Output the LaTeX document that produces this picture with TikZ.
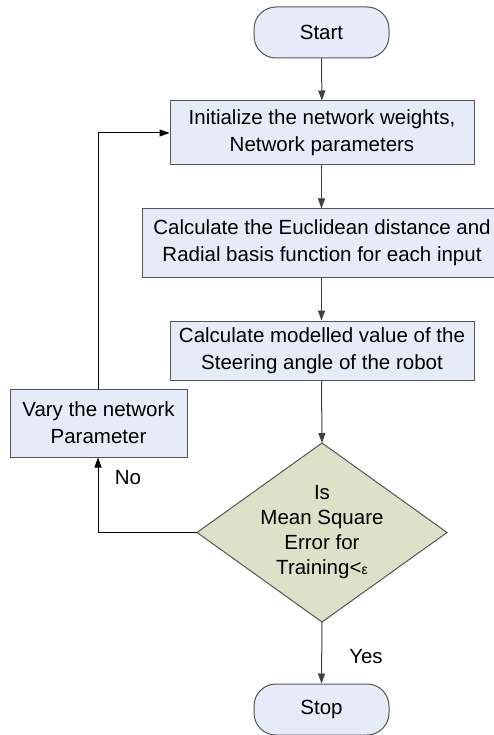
\documentclass[tikz,border=0pt]{standalone}
\usepackage{fontspec}
\setmainfont{Liberation Sans}
\usetikzlibrary{shapes.geometric,arrows.meta}
\definecolor{boxfill}{HTML}{E6ECF7}
\definecolor{diafill}{HTML}{DDE1C8}
\definecolor{edge}{HTML}{555555}
\definecolor{lineclr}{HTML}{404040}
\begin{document}
\begin{tikzpicture}[x=1pt,y=-1pt,
  every node/.style={font=\fontsize{20.5}{27}\selectfont},
  termbox/.style={draw=edge,fill=boxfill,line width=1pt,rounded corners=22pt,minimum width=135pt,minimum height=51pt,inner sep=0pt},
  procbox/.style={draw=edge,fill=boxfill,line width=1pt,align=center,inner sep=0pt},
  decshape/.style={draw=edge,fill=diafill,line width=1pt},
  flow/.style={draw=lineclr,line width=1pt,-{Triangle[length=10pt,width=7pt]}},
  lbl/.style={inner sep=0pt}]
\useasboundingbox (0,0) rectangle (494,735);
\begin{scope}
\clip (0,0) rectangle (494,735);
\node[termbox] (start) at (321.5,32.5) {Start};
\node[procbox,minimum width=304pt,minimum height=64pt] (init) at (322,133) {Initialize the network weights,\\Network parameters};
\node[procbox,minimum width=360pt,minimum height=68pt] (calc) at (322,243) {Calculate the Euclidean distance and\\Radial basis function for each input};
\node[procbox,minimum width=304pt,minimum height=59pt] (model) at (322,350.5) {Calculate modelled value of the\\Steering angle of the robot};
\node[procbox,minimum width=177pt,minimum height=68pt] (vary) at (98.5,423) {Vary the network\\Parameter};
\coordinate (dtop) at (322,443);
\coordinate (dleft) at (197,532.5);
\coordinate (dright) at (447,532.5);
\coordinate (dbot) at (322,622);
\draw[decshape] (dtop) -- (dright) -- (dbot) -- (dleft) -- cycle;
\node[align=center,inner sep=0pt,font=\fontsize{20.5}{25}\selectfont] (dec) at (322,532) {Is\\Mean Square\\Error for\\Training<{\fontsize{14}{14}\selectfont ε}};
\node[termbox] (stop) at (321.5,709.5) {Stop};
\coordinate (c1) at (98,532.5);
\coordinate (c2) at (98,133);
\draw[flow] (start) -- (init);
\draw[flow] (init.south -| start) -- (calc.north -| start);
\draw[flow] (calc.south -| start) -- (model.north -| start);
\draw[flow] (model.south -| start) -- (dtop);
\draw[flow] (dbot) -- (stop.north);
\draw[flow,draw=black] (dleft) -- (c1) -- (vary.south -| c1);
\draw[flow,draw=black] (vary.north -| c2) -- (c2) -- (init.west);
\node[lbl] (no) at (128,478) {No};
\node[lbl] (yes) at (366,657) {Yes};
\end{scope}
\end{tikzpicture}
\end{document}
